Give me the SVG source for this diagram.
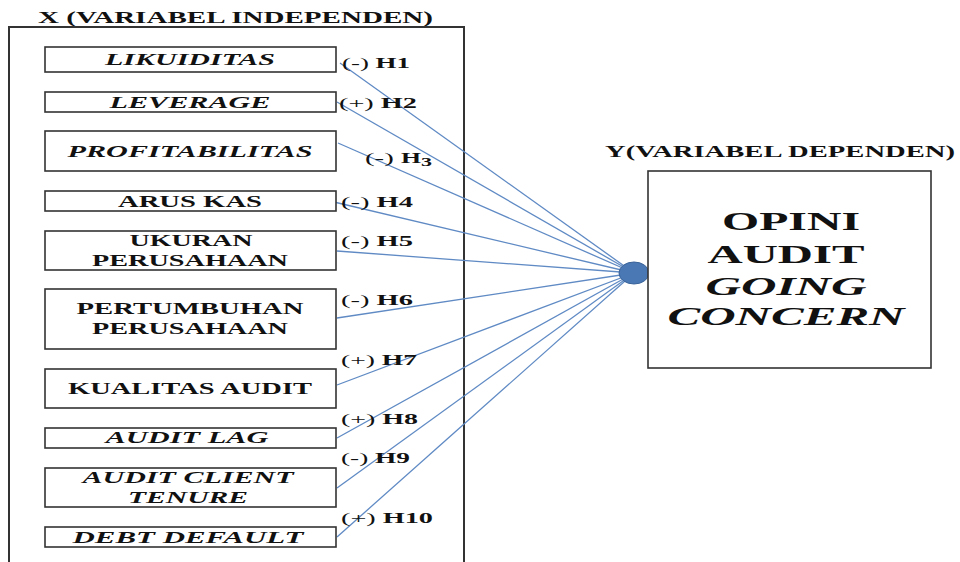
<svg xmlns="http://www.w3.org/2000/svg" width="960" height="562" viewBox="0 0 960 562">
<style>
  text { font-family: "Liberation Serif", "Times New Roman", serif; fill: #111; font-weight: bold; }
  .title { font-size: 17px; }
  .lbl { font-size: 17.5px; text-anchor: middle; }
  .it { font-style: italic; }
  .hyp { font-size: 15px; }
  .hyp .p { font-weight: normal; }
  .big { font-size: 25px; text-anchor: middle; }
  .box { fill: #fff; stroke: #333; stroke-width: 1.6; }
  .frame { fill: none; stroke: #333; stroke-width: 2; }
  .conn line { stroke: #5f8ac4; stroke-width: 1.3; }
</style>
<rect width="960" height="562" fill="#fff"/>

<g id="independent-frame">
  <text class="title" x="38" y="23" textLength="395" lengthAdjust="spacingAndGlyphs">X (VARIABEL INDEPENDEN)</text>
  <polyline class="frame" points="9,564 9,27 464,27 464,564"/>
</g>

<g id="dependent-title">
  <text class="title" x="605" y="157" textLength="350" lengthAdjust="spacingAndGlyphs">Y(VARIABEL DEPENDEN)</text>
</g>

<g class="conn" id="connectors">
  <line x1="340" y1="63" x2="634" y2="273"/>
  <line x1="337" y1="102" x2="634" y2="273"/>
  <line x1="338" y1="143" x2="634" y2="273"/>
  <line x1="334" y1="202" x2="634" y2="273"/>
  <line x1="337" y1="251" x2="634" y2="273"/>
  <line x1="337" y1="318" x2="634" y2="273"/>
  <line x1="337" y1="385" x2="634" y2="273"/>
  <line x1="337" y1="438" x2="634" y2="273"/>
  <line x1="337" y1="488" x2="634" y2="273"/>
  <line x1="337" y1="537" x2="634" y2="273"/>
</g>

<g id="likuiditas">
  <rect class="box" x="45" y="47" width="291" height="25"/>
  <text class="lbl it" x="190" y="65" textLength="170" lengthAdjust="spacingAndGlyphs">LIKUIDITAS</text>
</g>
<g id="leverage">
  <rect class="box" x="45" y="92" width="291" height="20"/>
  <text class="lbl it" x="190" y="108" textLength="161" lengthAdjust="spacingAndGlyphs">LEVERAGE</text>
</g>
<g id="profitabilitas">
  <rect class="box" x="45" y="131" width="291" height="40"/>
  <text class="lbl it" x="190" y="157" textLength="245" lengthAdjust="spacingAndGlyphs">PROFITABILITAS</text>
</g>
<g id="arus-kas">
  <rect class="box" x="45" y="191" width="291" height="20"/>
  <text class="lbl" x="190" y="207" textLength="144" lengthAdjust="spacingAndGlyphs">ARUS KAS</text>
</g>
<g id="ukuran-perusahaan">
  <rect class="box" x="45" y="231" width="291" height="39"/>
  <text class="lbl" x="191" y="246" textLength="123" lengthAdjust="spacingAndGlyphs">UKURAN</text>
  <text class="lbl" x="190" y="266" textLength="196" lengthAdjust="spacingAndGlyphs">PERUSAHAAN</text>
</g>
<g id="pertumbuhan-perusahaan">
  <rect class="box" x="45" y="289" width="291" height="60"/>
  <text class="lbl" x="190" y="314" textLength="227" lengthAdjust="spacingAndGlyphs">PERTUMBUHAN</text>
  <text class="lbl" x="190" y="334" textLength="196" lengthAdjust="spacingAndGlyphs">PERUSAHAAN</text>
</g>
<g id="kualitas-audit">
  <rect class="box" x="45" y="369" width="291" height="39"/>
  <text class="lbl" x="190" y="394" textLength="244" lengthAdjust="spacingAndGlyphs">KUALITAS AUDIT</text>
</g>
<g id="audit-lag">
  <rect class="box" x="45" y="428" width="291" height="20"/>
  <text class="lbl it" x="187" y="443" textLength="163" lengthAdjust="spacingAndGlyphs">AUDIT LAG</text>
</g>
<g id="audit-client-tenure">
  <rect class="box" x="45" y="468" width="291" height="39"/>
  <text class="lbl it" x="188" y="483" textLength="211" lengthAdjust="spacingAndGlyphs">AUDIT CLIENT</text>
  <text class="lbl it" x="188" y="503" textLength="120" lengthAdjust="spacingAndGlyphs">TENURE</text>
</g>
<g id="debt-default">
  <rect class="box" x="45" y="527" width="291" height="20"/>
  <text class="lbl it" x="188" y="543" textLength="231" lengthAdjust="spacingAndGlyphs">DEBT DEFAULT</text>
</g>

<g id="hypotheses">
  <text class="hyp" x="342" y="68" textLength="68" lengthAdjust="spacingAndGlyphs"><tspan class="p">(-) </tspan>H1</text>
  <text class="hyp" x="339" y="108" textLength="78" lengthAdjust="spacingAndGlyphs"><tspan class="p">(+) </tspan>H2</text>
  <text class="hyp" x="365" y="163"><tspan class="p" textLength="36" lengthAdjust="spacingAndGlyphs">(-) </tspan><tspan x="401" textLength="20" lengthAdjust="spacingAndGlyphs">H</tspan><tspan x="421" y="166" font-size="12" textLength="11" lengthAdjust="spacingAndGlyphs">3</tspan></text>
  <text class="hyp" x="341" y="207" textLength="72" lengthAdjust="spacingAndGlyphs"><tspan class="p">(-) </tspan>H4</text>
  <text class="hyp" x="341" y="246" textLength="72" lengthAdjust="spacingAndGlyphs"><tspan class="p">(-) </tspan>H5</text>
  <text class="hyp" x="341" y="305" textLength="72" lengthAdjust="spacingAndGlyphs"><tspan class="p">(-) </tspan>H6</text>
  <text class="hyp" x="341" y="365" textLength="76" lengthAdjust="spacingAndGlyphs"><tspan class="p">(+) </tspan>H7</text>
  <text class="hyp" x="341" y="424" textLength="77" lengthAdjust="spacingAndGlyphs"><tspan class="p">(+) </tspan>H8</text>
  <text class="hyp" x="341" y="463" textLength="69" lengthAdjust="spacingAndGlyphs"><tspan class="p">(-) </tspan>H9</text>
  <text class="hyp" x="341" y="523" textLength="92" lengthAdjust="spacingAndGlyphs"><tspan class="p">(+) </tspan>H10</text>
</g>

<g id="junction">
  <ellipse cx="634" cy="273" rx="15" ry="11" fill="#4a78b4" stroke="#3a6399" stroke-width="1"/>
</g>

<g id="opini-audit-going-concern">
  <rect class="box" x="648" y="171" width="283" height="197" stroke-width="2"/>
  <text class="big" x="791" y="230" textLength="138" lengthAdjust="spacingAndGlyphs">OPINI</text>
  <text class="big" x="786" y="263" textLength="157" lengthAdjust="spacingAndGlyphs">AUDIT</text>
  <text class="big it" x="786" y="295" textLength="161" lengthAdjust="spacingAndGlyphs">GOING</text>
  <text class="big it" x="786" y="325" textLength="237" lengthAdjust="spacingAndGlyphs">CONCERN</text>
</g>
</svg>
